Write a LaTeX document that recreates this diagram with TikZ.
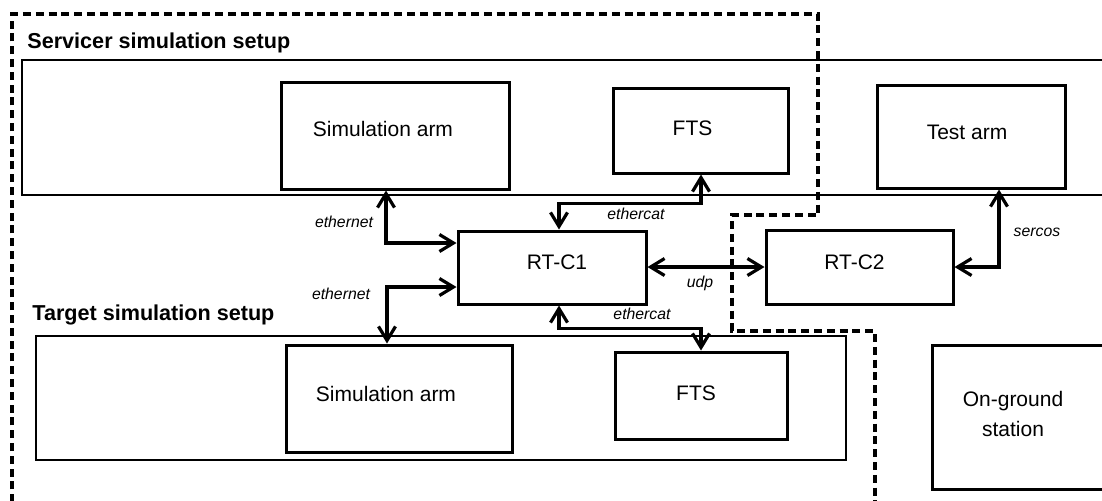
\documentclass[tikz,border=0pt]{standalone}
\usepackage{fontspec}
\setmainfont{Liberation Sans}
\usetikzlibrary{arrows.meta,fit}
\begin{document}
\begin{tikzpicture}[x=0.5pt,y=-0.5pt,
  box/.style={draw,line width=1.5pt,inner sep=0pt},
  boxtext/.style={font=\fontsize{10.5}{15}\selectfont,align=center,inner sep=0pt},
  group/.style={draw,line width=0.6pt},
  zone/.style={draw,line width=1.7pt,dash pattern=on 4pt off 2.4pt},
  conn/.style={line width=1.6pt,
    {Straight Barb[length=7pt,width=8.5pt]}-{Straight Barb[length=7pt,width=8.5pt]}},
  proto/.style={font=\fontsize{7.9}{9}\selectfont\itshape,anchor=base,inner sep=0pt},
  title/.style={font=\fontsize{10.8}{13}\selectfont\bfseries,anchor=base west,inner sep=0pt}]

\useasboundingbox (0,0) rectangle (1102,500);
\clip (0,0) rectangle (1102,500);

% group frames
\draw[group] (22,60) rectangle (1115,195);
\draw[group] (36,336) rectangle (846,460);
\node[title] (servtitle) at (27,48) {Servicer simulation setup};
\node[title] (targtitle) at (32,320) {Target simulation setup};

% zone boundary
\draw[zone] (12,515) -- (12,14) -- (818,14) -- (818,215) -- (732,215)
  -- (732,331) -- (875,331) -- (875,515);

% components
\node[box,fit={(281,82) (509,189)},
  label={[boxtext,xshift=-6pt,yshift=3.5pt]center:Simulation arm}] (sarm) {};
\node[box,fit={(613,88) (788,173)},
  label={[boxtext,xshift=-4pt,yshift=1pt]center:FTS}] (sfts) {};
\node[box,fit={(877,85) (1065,188)},
  label={[boxtext,xshift=-2pt,yshift=2pt]center:Test arm}] (testarm) {};
\node[box,fit={(458,231) (646,304)},
  label={[boxtext,xshift=2.5pt,yshift=2.5pt]center:RT-C1}] (rtc1) {};
\node[box,fit={(766,230) (953,304)},
  label={[boxtext,xshift=-2.5pt,yshift=2.5pt]center:RT-C2}] (rtc2) {};
\node[box,fit={(286,345) (512,452)},
  label={[boxtext,xshift=-6.5pt,yshift=2.5pt]center:Simulation arm}] (tarm) {};
\node[box,fit={(615,352) (787,439)},
  label={[boxtext,xshift=-2.5pt,yshift=1pt]center:FTS}] (tfts) {};
\node[box,fit={(932,345) (1106,489)},
  label={[boxtext,xshift=-3pt,yshift=1.5pt]center:On-ground\\station}] (ground) {};

% links
\draw[conn] (sarm.south -| 386,0) |- (rtc1.west |- 0,243);
\draw[conn] (rtc1.west |- 0,287) -| (tarm.north -| 387,0);
\draw[conn] (sfts.south -| 701,0) -- ++(0,29) -| (rtc1.north -| 559,0);
\draw[conn] (rtc1.south -| 559,0) -- ++(0,23) -| (tfts.north -| 701,0);
\draw[conn] (rtc1.east |- 0,267) -- (rtc2.west |- 0,267);
\draw[conn] (rtc2.east |- 0,267) -| (testarm.south -| 999,0);

% link labels
\node[proto] (l1) at (344,227) {ethernet};
\node[proto] (l2) at (341,299) {ethernet};
\node[proto] (l3) at (636,219) {ethercat};
\node[proto] (l4) at (642,319) {ethercat};
\node[proto] (l5) at (700,287) {udp};
\node[proto] (l6) at (1037,236) {sercos};
\end{tikzpicture}
\end{document}
